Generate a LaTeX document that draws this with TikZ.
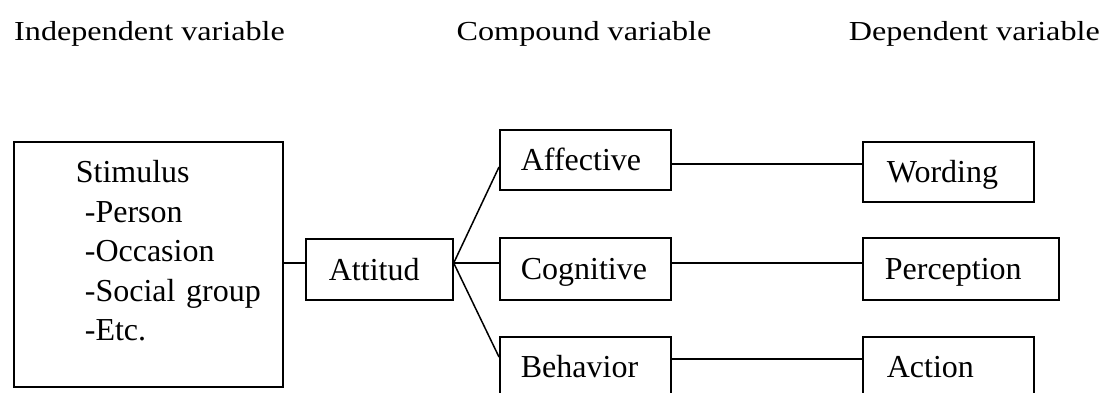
\documentclass[tikz,border=0pt]{standalone}
\usepackage{fontspec}
\usepackage{graphicx}
\setmainfont{Liberation Serif}
\newcommand\boxfont{\fontsize{32pt}{39.5pt}\selectfont}
\newcommand\headfont{\fontsize{27.5pt}{30pt}\selectfont}
\newcommand\headtext[1]{\scalebox{1.17}[1]{#1}}
\newcommand\indA{\hspace*{62pt}}
\newcommand\indB{\hspace*{71pt}}
\tikzset{
  cell/.style={draw, line width=1.7pt, font=\boxfont, anchor=north west,
    inner ysep=0pt, align=left, text height=26pt, text depth=4pt},
  link/.style={line width=1.5pt},
  head/.style={font=\headfont, inner sep=0pt}
}
\begin{document}
\begin{tikzpicture}[x=1pt,y=-1pt]
\useasboundingbox (0,0) rectangle (1103,392);
\clip (0,0) rectangle (1103,392);
% headers
\node[head, anchor=base west] (h1) at (14,40) {\headtext{Independent variable}};
\node[head, anchor=base] (h2) at (584,40) {\headtext{Compound variable}};
\node[head, anchor=base east] (h3) at (1100,40) {\headtext{Dependent variable}};
% boxes
\node[cell, inner xsep=0pt, text width=269pt, text height=41pt, text depth=204pt] (stim) at (13,141)
  {\indA Stimulus\\ \indB -Person\\ \indB -Occasion\\ \indB -Social group\\ \indB -Etc.};
\node[cell, inner xsep=23pt, text width=101pt, minimum height=61pt] (att) at (305,238) {Attitud};
\node[cell, inner xsep=21pt, text width=129pt, minimum height=60pt] (aff) at (499,129) {Affective};
\node[cell, inner xsep=21pt, text width=129pt, minimum height=62pt] (cog) at (499,237) {Cognitive};
\node[cell, inner xsep=21pt, text width=129pt, minimum height=60pt] (beh) at (499,336) {Behavior};
\node[cell, inner xsep=24pt, text width=123pt, minimum height=60pt] (wor) at (862,141) {Wording};
\node[cell, inner xsep=22pt, text width=152pt, minimum height=62pt] (per) at (862,237) {Perception};
\node[cell, inner xsep=24pt, text width=123pt, minimum height=60pt] (act) at (862,336) {Action};
% connectors
\coordinate (fan) at (att.east |- 0,263);
\draw[link] (stim.east |- 0,263) -- (att.west |- 0,263);
\draw[link] (fan) -- (aff.west |- 0,167);
\draw[link] (fan) -- (cog.west |- 0,263);
\draw[link] (fan) -- (beh.west |- 0,357);
\draw[link] (aff.east |- 0,164) -- (wor.west |- 0,164);
\draw[link] (cog.east |- 0,263) -- (per.west |- 0,263);
\draw[link] (beh.east |- 0,359) -- (act.west |- 0,359);
\end{tikzpicture}
\end{document}
